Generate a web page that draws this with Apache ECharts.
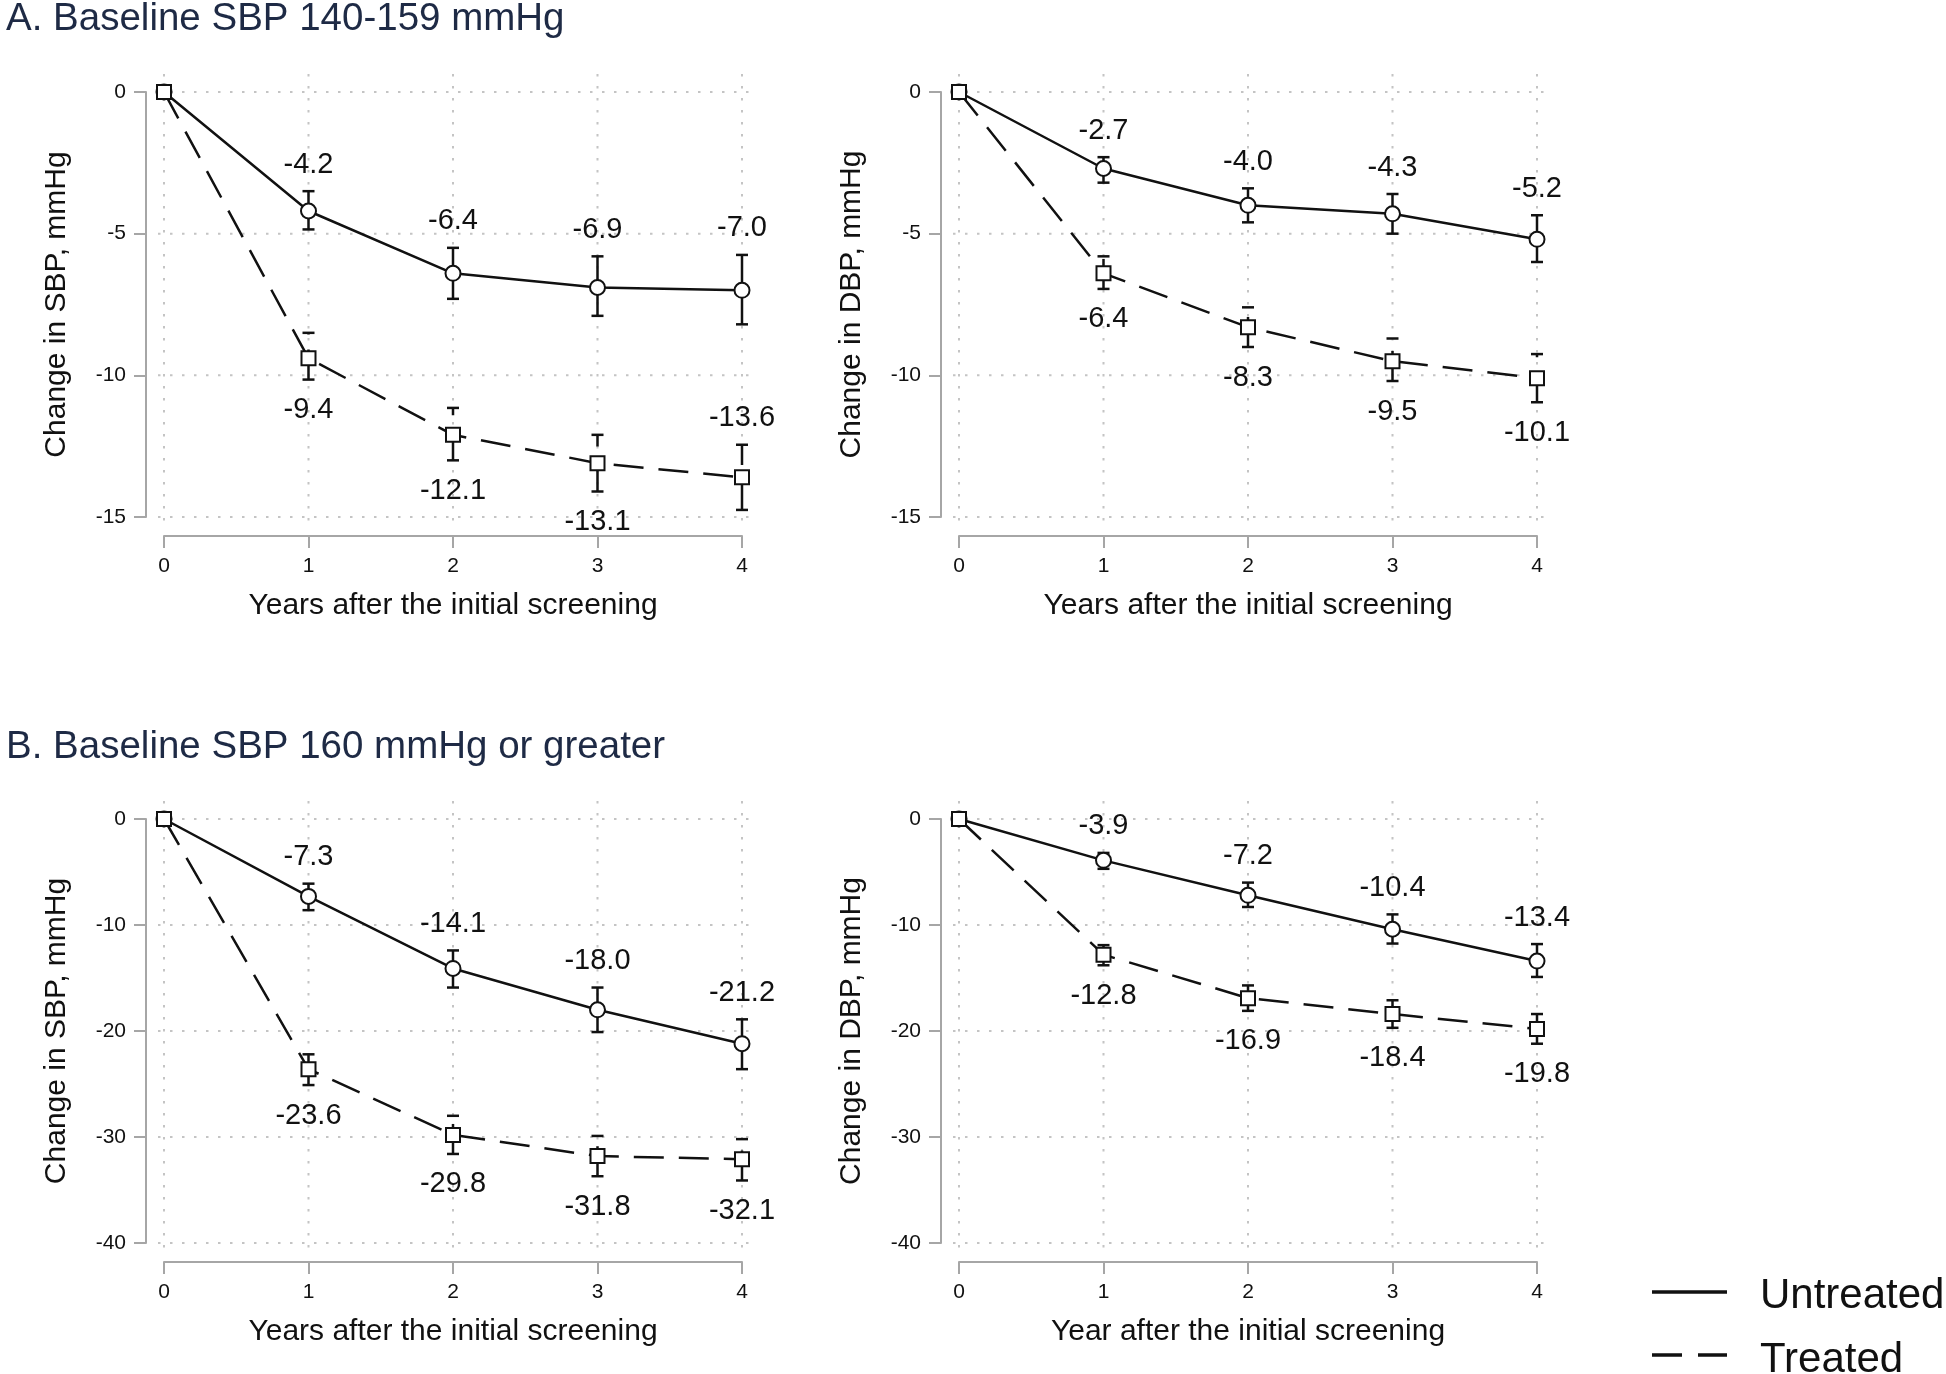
<!DOCTYPE html>
<html>
<head>
<meta charset="utf-8">
<script src="https://cdn.jsdelivr.net/npm/echarts@6/dist/echarts.min.js"></script>
<style>
html,body{margin:0;padding:0;background:#fff;}
#chart{width:1946px;height:1374px;}
</style>
</head>
<body>
<div id="chart"></div>
<script>
// ---------------- DATA ----------------
const years = [0, 1, 2, 3, 4];
const xTicks = [0, 1, 2, 3, 4];
const yTicksA = [0, -5, -10, -15];
const yTicksB = [0, -10, -20, -30, -40];
const seriesNames = ['Untreated', 'Treated'];
const panelTitles = ['A. Baseline SBP 140-159 mmHg', 'B. Baseline SBP 160 mmHg or greater'];
const yNames = ['Change in SBP, mmHg', 'Change in DBP, mmHg', 'Change in SBP, mmHg', 'Change in DBP, mmHg'];
const xNames = ['Years after the initial screening', 'Years after the initial screening',
                'Years after the initial screening', 'Year after the initial screening'];

// Panel A, SBP
const aSbpUnt   = [0, -4.2, -6.4, -6.9, -7.0];
const aSbpUntLo = [0, -4.85, -7.3, -7.9, -8.2];
const aSbpUntHi = [0, -3.5, -5.5, -5.8, -5.75];
const aSbpTrt   = [0, -9.4, -12.1, -13.1, -13.6];
const aSbpTrtLo = [0, -10.15, -13.0, -14.1, -14.75];
const aSbpTrtHi = [0, -8.5, -11.15, -12.1, -12.45];
// Panel A, DBP
const aDbpUnt   = [0, -2.7, -4.0, -4.3, -5.2];
const aDbpUntLo = [0, -3.2, -4.6, -5.0, -6.0];
const aDbpUntHi = [0, -2.3, -3.4, -3.6, -4.35];
const aDbpTrt   = [0, -6.4, -8.3, -9.5, -10.1];
const aDbpTrtLo = [0, -6.95, -9.0, -10.2, -10.95];
const aDbpTrtHi = [0, -5.8, -7.6, -8.7, -9.25];
// Panel B, SBP
const bSbpUnt   = [0, -7.3, -14.1, -18.0, -21.2];
const bSbpUntLo = [0, -8.6, -15.9, -20.1, -23.6];
const bSbpUntHi = [0, -6.1, -12.4, -15.9, -18.9];
const bSbpTrt   = [0, -23.6, -29.8, -31.8, -32.1];
const bSbpTrtLo = [0, -25.1, -31.6, -33.7, -34.1];
const bSbpTrtHi = [0, -22.2, -28.0, -29.9, -30.2];
// Panel B, DBP
const bDbpUnt   = [0, -3.9, -7.2, -10.4, -13.4];
const bDbpUntLo = [0, -4.7, -8.3, -11.75, -14.9];
const bDbpUntHi = [0, -3.2, -6.0, -9.0, -11.8];
const bDbpTrt   = [0, -12.8, -16.9, -18.4, -19.8];
const bDbpTrtLo = [0, -13.8, -18.1, -19.7, -21.2];
const bDbpTrtHi = [0, -11.9, -15.7, -17.1, -18.4];

// ---------------- LAYOUT / STYLE ----------------
const FONT = '"Liberation Sans", Arial, sans-serif';
const INK = '#111111';
const AXIS_GRAY = '#a6a6a6';
const GRID_GRAY = '#c4c4c4';
const DASH = [30, 15];

const panels = [
  { grid: {left: 164, top: 92, width: 578, height: 425}, yMin: -15, yInt: 5, yTicks: yTicksA,
    unt: [aSbpUnt, aSbpUntLo, aSbpUntHi], trt: [aSbpTrt, aSbpTrtLo, aSbpTrtHi],
    trtPos: ['below', 'below', 'below', 'below', 'above'] },
  { grid: {left: 959, top: 92, width: 578, height: 425}, yMin: -15, yInt: 5, yTicks: yTicksA,
    unt: [aDbpUnt, aDbpUntLo, aDbpUntHi], trt: [aDbpTrt, aDbpTrtLo, aDbpTrtHi],
    trtPos: ['below', 'below', 'below', 'below', 'below'] },
  { grid: {left: 164, top: 819, width: 578, height: 424}, yMin: -40, yInt: 10, yTicks: yTicksB,
    unt: [bSbpUnt, bSbpUntLo, bSbpUntHi], trt: [bSbpTrt, bSbpTrtLo, bSbpTrtHi],
    trtPos: ['below', 'below', 'below', 'below', 'below'] },
  { grid: {left: 959, top: 819, width: 578, height: 424}, yMin: -40, yInt: 10, yTicks: yTicksB,
    unt: [bDbpUnt, bDbpUntLo, bDbpUntHi], trt: [bDbpTrt, bDbpTrtLo, bDbpTrtHi],
    trtPos: ['below', 'below', 'below', 'below', 'below'] }
];

const grids = [], xAxes = [], yAxes = [], series = [];

panels.forEach((p, i) => {
  grids.push(Object.assign({containLabel: false}, p.grid));
  xAxes.push({
    gridIndex: i, type: 'value', min: 0, max: 4, interval: 1, offset: 19,
    axisLine: {show: true, onZero: false, lineStyle: {color: AXIS_GRAY, width: 2}},
    axisTick: {show: true, length: 12, lineStyle: {color: AXIS_GRAY, width: 2}},
    axisLabel: {fontSize: 21, color: INK, margin: 20, fontFamily: FONT},
    splitLine: {show: false},
    name: xNames[i], nameLocation: 'middle', nameGap: 55,
    nameTextStyle: {fontSize: 30, color: INK, fontFamily: FONT}
  });
  yAxes.push({
    gridIndex: i, type: 'value', min: p.yMin, max: 0, interval: p.yInt, offset: 18,
    axisLine: {show: true, onZero: false, lineStyle: {color: AXIS_GRAY, width: 2}},
    axisTick: {show: true, length: 12, lineStyle: {color: AXIS_GRAY, width: 2}},
    axisLabel: {fontSize: 21, color: INK, margin: 20, fontFamily: FONT},
    splitLine: {show: false},
    name: yNames[i], nameLocation: 'middle', nameGap: 74, nameRotate: 90,
    nameTextStyle: {fontSize: 30, color: INK, fontFamily: FONT}
  });

  // dotted gridlines
  const gridData = p.yTicks.map(v => [0, v, 0]).concat(xTicks.map(v => [v, 0, 1]));
  series.push({
    type: 'custom', xAxisIndex: i, yAxisIndex: i, silent: true, clip: false, z: 1,
    data: gridData,
    renderItem: (params, api) => {
      const tl = api.coord([0, 0]);
      const br = api.coord([4, p.yMin]);
      let shape;
      if (api.value(2) === 0) {
        const q = api.coord([0, api.value(1)]);
        shape = {x1: tl[0] - 6, y1: q[1], x2: br[0] + 12, y2: q[1]};
      } else {
        const q = api.coord([api.value(0), 0]);
        shape = {x1: q[0], y1: tl[1] - 18, x2: q[0], y2: br[1] + 6};
      }
      return {type: 'line', shape, style: {stroke: GRID_GRAY, lineWidth: 2, lineDash: [2.5, 9.5]}};
    }
  });

  // error bars + value labels
  [[p.unt, false, null], [p.trt, true, p.trtPos]].forEach(([arrs, dashed, posArr]) => {
    const [vals, lo, hi] = arrs;
    series.push({
      type: 'custom', xAxisIndex: i, yAxisIndex: i, silent: true, clip: false, z: 2,
      encode: {x: 0, y: [1, 2]},
      data: years.map((x, k) => [x, lo[k], hi[k], vals[k]]),
      renderItem: (params, api) => {
        const x = api.value(0), l = api.value(1), h = api.value(2), v = api.value(3);
        if (l === h) return null;
        const pl = api.coord([x, l]);
        const ph = api.coord([x, h]);
        const st = {stroke: INK, lineWidth: 2.5};
        const vStyle = Object.assign({}, st, dashed ? {lineDash: DASH} : {});
        const pos = posArr ? posArr[params.dataIndex] : 'above';
        const tStyle = {text: v.toFixed(1), fill: INK, fontSize: 29, fontFamily: FONT, align: 'center'};
        const txt = pos === 'above'
          ? {type: 'text', x: ph[0], y: ph[1] - 12, style: Object.assign({verticalAlign: 'bottom'}, tStyle)}
          : {type: 'text', x: pl[0], y: pl[1] + 16, style: Object.assign({verticalAlign: 'top'}, tStyle)};
        return {
          type: 'group',
          children: [
            {type: 'line', shape: {x1: pl[0], y1: pl[1], x2: ph[0], y2: ph[1]}, style: vStyle},
            {type: 'line', shape: {x1: pl[0] - 6, y1: pl[1], x2: pl[0] + 6, y2: pl[1]}, style: st},
            {type: 'line', shape: {x1: ph[0] - 6, y1: ph[1], x2: ph[0] + 6, y2: ph[1]}, style: st},
            txt
          ]
        };
      }
    });
  });

  // lines with markers
  series.push({
    name: seriesNames[0], type: 'line', xAxisIndex: i, yAxisIndex: i, z: 3,
    data: years.map((x, k) => [x, p.unt[0][k]]),
    symbol: 'emptyCircle', symbolSize: 15,
    lineStyle: {color: INK, width: 2.5, type: 'solid'},
    itemStyle: {color: INK, borderColor: INK, borderWidth: 2.4},
    emphasis: {disabled: true}, animation: false
  });
  series.push({
    name: seriesNames[1], type: 'line', xAxisIndex: i, yAxisIndex: i, z: 3,
    data: years.map((x, k) => [x, p.trt[0][k]]),
    symbol: 'emptyRect', symbolSize: 14,
    lineStyle: {color: INK, width: 2.5, type: DASH},
    itemStyle: {color: INK, borderColor: INK, borderWidth: 2.4},
    emphasis: {disabled: true}, animation: false
  });
});

const option = {
  backgroundColor: '#ffffff',
  animation: false,
  textStyle: {fontFamily: FONT},
  title: [
    {text: panelTitles[0], left: 1, top: -5,
     textStyle: {fontSize: 38.5, fontWeight: 'normal', color: '#1e2a45', fontFamily: FONT}},
    {text: panelTitles[1], left: 1, top: 723,
     textStyle: {fontSize: 38.5, fontWeight: 'normal', color: '#1e2a45', fontFamily: FONT}}
  ],
  grid: grids,
  xAxis: xAxes,
  yAxis: yAxes,
  series: series,
  graphic: [
    {type: 'line', silent: true, shape: {x1: 1652, y1: 1292, x2: 1727, y2: 1292},
     style: {stroke: INK, lineWidth: 3.5}},
    {type: 'line', silent: true, shape: {x1: 1652, y1: 1355, x2: 1727, y2: 1355},
     style: {stroke: INK, lineWidth: 3.5, lineDash: [30, 16]}},
    {type: 'text', silent: true, x: 1760, y: 1296,
     style: {text: seriesNames[0], fill: INK, fontSize: 42, fontFamily: FONT, verticalAlign: 'middle'}},
    {type: 'text', silent: true, x: 1760, y: 1360,
     style: {text: seriesNames[1], fill: INK, fontSize: 42, fontFamily: FONT, verticalAlign: 'middle'}}
  ]
};

const chart = echarts.init(document.getElementById('chart'), null, {renderer: 'canvas'});
chart.setOption(option);
</script>
</body>
</html>
